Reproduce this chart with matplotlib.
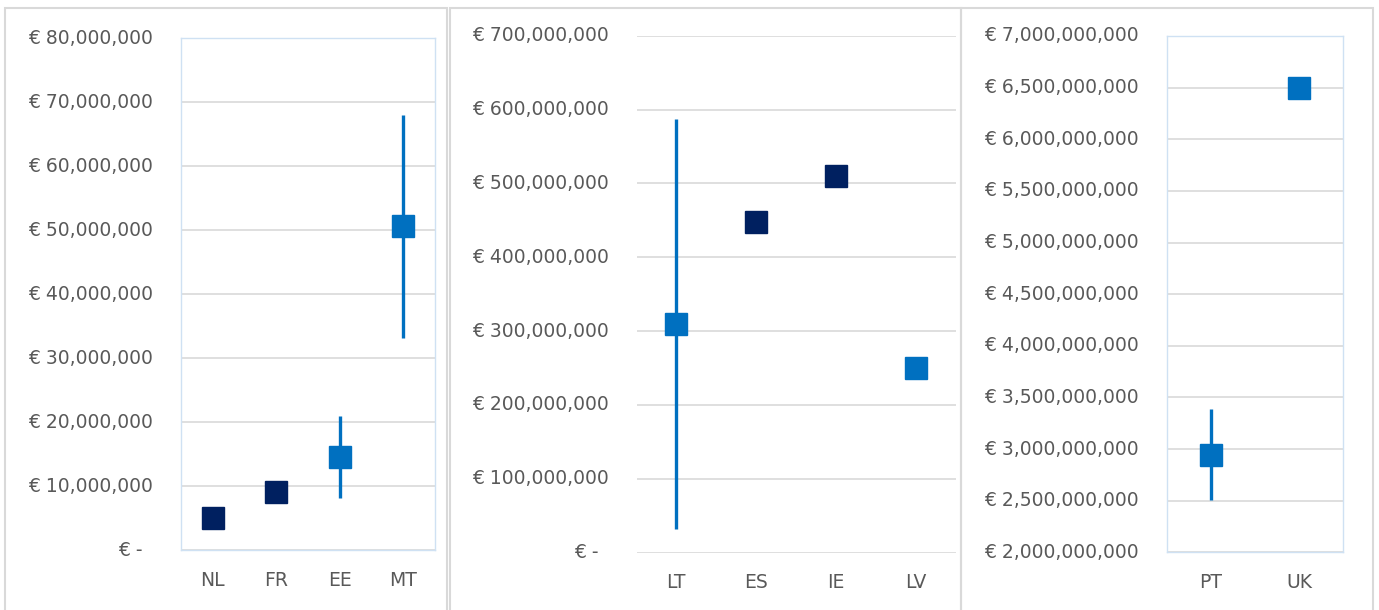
import numpy as np
import matplotlib.pyplot as plt
from matplotlib.patches import Rectangle
from matplotlib.transforms import offset_copy

# values (euro)
left_countries = ["NL", "FR", "EE", "MT"]
left_values = [5.0e6, 9.0e6, 14.6e6, 50.6e6]
left_low = [np.nan, np.nan, 8.2e6, 33.1e6]
left_high = [np.nan, np.nan, 21.0e6, 68.0e6]
left_kind = ["single", "single", "range", "range"]

mid_countries = ["LT", "ES", "IE", "LV"]
mid_values = [310e6, 448e6, 510e6, 250e6]
mid_low = [32e6, np.nan, np.nan, np.nan]
mid_high = [587e6, np.nan, np.nan, np.nan]
mid_kind = ["range", "single", "single", "range"]

right_countries = ["PT", "UK"]
right_values = [2.947e9, 6.495e9]
right_low = [2.51e9, np.nan]
right_high = [3.39e9, np.nan]
right_kind = ["range", "range"]

left_ticks = np.arange(0, 80e6 + 1, 10e6)
mid_ticks = np.arange(0, 700e6 + 1, 100e6)
right_ticks = np.arange(2e9, 7e9 + 1, 0.5e9)

kind_colors = {"single": "#002060", "range": "#0070C0"}
grid_color = "#d9d9d9"
text_color = "#595959"
box_color = "#cfe1f3"

W, H = 1379, 610
fig = plt.figure(figsize=(W / 100, H / 100), dpi=100)
fig.patch.set_facecolor("white")
plt.rcParams["font.family"] = ["DejaVu Sans"]


def px_axes(x0, x1, y0, y1):
    # pixel box (top-left origin) -> figure axes
    return fig.add_axes([x0 / W, 1 - y1 / H, (x1 - x0) / W, (y1 - y0) / H])


# outer panel frames
for x0, x1 in [(5, 447), (450, 961), (961, 1373)]:
    fig.add_artist(
        Rectangle(
            (x0 / W, -0.01),
            (x1 - x0) / W,
            1 - 8 / H + 0.01,
            transform=fig.transFigure,
            facecolor="none",
            edgecolor="#d9d9d9",
            linewidth=1.5,
        )
    )


def draw_panel(ax, countries, values, low, high, kind, ticks, show_box):
    n = len(countries)
    x = np.arange(n)
    ax.set_xlim(-0.5, n - 0.5)
    ax.set_ylim(ticks[0], ticks[-1])
    ax.set_facecolor("none")

    for t in ticks:
        ax.axhline(t, color=grid_color, linewidth=1.2, zorder=1)

    for s in ax.spines.values():
        s.set_visible(show_box)
        s.set_color(box_color)
        s.set_linewidth(1.0)
    ax.set_xticks([])
    ax.set_yticks([])

    for i in range(n):
        c = kind_colors[kind[i]]
        if not np.isnan(low[i]):
            ax.vlines(x[i], low[i], high[i], color=c, linewidth=2.4, zorder=3)
        ax.plot(
            x[i], values[i], marker="s", markersize=15.5, color=c,
            markeredgecolor=c, linestyle="none", zorder=4,
        )

    # y tick labels, accounting style
    for t in ticks:
        if t == 0:
            lbl, dx = "€ -", -38
        else:
            lbl, dx = "€ {:,.0f}".format(t), -28
        tr = offset_copy(ax.get_yaxis_transform(), fig=fig, x=dx, y=0, units="dots")
        ax.text(0, t, lbl, transform=tr, ha="right", va="center",
                fontsize=13.5, color=text_color)

    # category labels
    tr = offset_copy(ax.get_xaxis_transform(), fig=fig, x=0, y=-30, units="dots")
    for i, name in enumerate(countries):
        ax.text(x[i], 0, name, transform=tr, ha="center", va="center",
                fontsize=13.5, color=text_color)


ax1 = px_axes(181, 435, 38, 550)
draw_panel(ax1, left_countries, left_values, left_low, left_high, left_kind,
           left_ticks, True)

ax2 = px_axes(636.5, 955.5, 35.7, 552.7)
draw_panel(ax2, mid_countries, mid_values, mid_low, mid_high, mid_kind,
           mid_ticks, False)

ax3 = px_axes(1166.7, 1343.3, 36, 552.3)
draw_panel(ax3, right_countries, right_values, right_low, right_high, right_kind,
           right_ticks, True)

plt.savefig("out.png", dpi=100, facecolor="white")
